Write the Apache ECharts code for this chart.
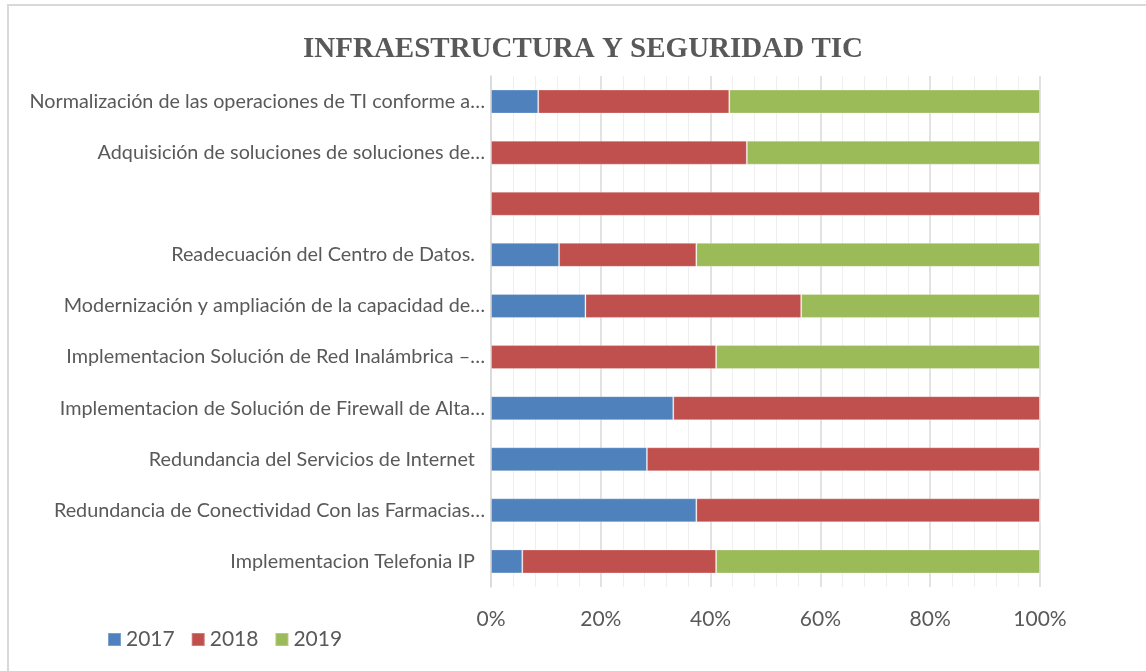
<!DOCTYPE html>
<html>
<head>
<meta charset="utf-8">
<script src="https://cdn.jsdelivr.net/npm/echarts@6/dist/echarts.min.js"></script>
<style>html,body{margin:0;padding:0;background:#fff;}#c{width:1146px;height:671px;}</style>
</head>
<body>
<div id="c"></div>
<script>
const categories = [
  "Normalización de las operaciones de TI conforme a…",
  "Adquisición de soluciones de soluciones de…",
  "",
  "Readecuación del Centro de Datos.  ",
  "Modernización y ampliación de la capacidad de…",
  "Implementacion Solución de Red Inalámbrica –…",
  "Implementacion de Solución de Firewall de Alta…",
  "Redundancia del Servicios de Internet  ",
  "Redundancia de Conectividad Con las Farmacias…",
  "Implementacion Telefonia IP  "
];
const s2017 = [8.6, 0, 0, 12.4, 17.2, 0, 33.2, 28.4, 37.4, 5.7];
const s2018 = [34.8, 46.6, 100, 25.0, 39.3, 41.0, 66.8, 71.6, 62.6, 35.3];
const s2019 = [56.6, 53.4, 0, 62.6, 43.5, 59.0, 0, 0, 0, 59.0];
const xTicks = [0, 20, 40, 60, 80, 100];
const seriesNames = ["2017", "2018", "2019"];
const colors = ["#4F81BD", "#C0504D", "#9BBB59"];

const chart = echarts.init(document.getElementById('c'), null, {renderer: 'canvas'});
const txt = '#595959';
const font = 'Lato';
const mk = (name, data, color) => ({
  name, type: 'bar', stack: 'total', data, barWidth: 24,
  itemStyle: {color, borderColor: 'rgba(255,255,255,0.25)', borderWidth: 1},
  emphasis: {disabled: true}
});
chart.setOption({
  animation: false,
  backgroundColor: '#fff',
  color: colors,
  title: {
    text: 'INFRAESTRUCTURA Y SEGURIDAD TIC',
    left: 578, textAlign: 'center', top: 30,
    textStyle: {fontFamily: 'Liberation Serif', fontWeight: 'bold', fontSize: 29, color: txt}
  },
  graphic: [{
    type: 'rect', shape: {x: 8, y: 5, width: 1300, height: 800},
    style: {fill: 'none', stroke: '#d9d9d9', lineWidth: 2}, silent: true
  }],
  legend: {
    data: seriesNames, left: 102, top: 624, icon: 'rect', itemWidth: 13, itemHeight: 13,
    itemGap: 16,
    textStyle: {fontFamily: font, fontSize: 21, color: txt}
  },
  grid: {left: 491, right: 106, top: 76, bottom: 84, containLabel: false},
  xAxis: {
    type: 'value', min: xTicks[0], max: xTicks[xTicks.length - 1], interval: 20,
    axisLine: {show: false}, axisTick: {show: false},
    axisLabel: {formatter: '{value}%', fontFamily: font, fontSize: 21, color: txt, margin: 22},
    splitLine: {show: true, lineStyle: {color: '#d9d9d9', width: 1.5}},
    minorTick: {show: false, splitNumber: 5},
    minorSplitLine: {show: true, lineStyle: {color: '#efefef', width: 1}}
  },
  yAxis: {
    type: 'category', data: categories, inverse: true,
    axisLine: {show: true, lineStyle: {color: '#d9d9d9', width: 1.5}},
    axisTick: {show: false},
    axisLabel: {fontFamily: font, fontSize: 19.8, color: txt, margin: 6}
  },
  series: [
    mk(seriesNames[0], s2017, colors[0]),
    mk(seriesNames[1], s2018, colors[1]),
    mk(seriesNames[2], s2019, colors[2])
  ]
});
</script>
</body>
</html>
